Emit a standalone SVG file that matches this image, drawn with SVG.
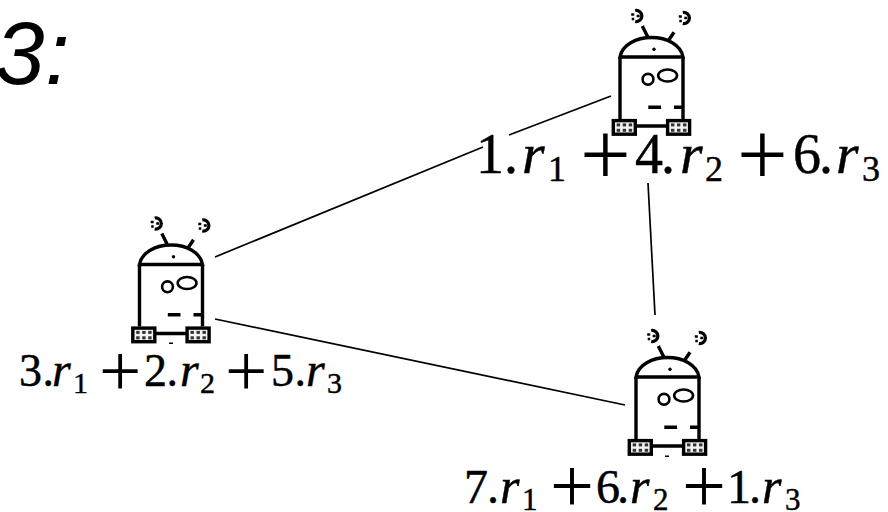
<svg xmlns="http://www.w3.org/2000/svg" xmlns:xlink="http://www.w3.org/1999/xlink" width="888" height="512" viewBox="0 0 888 512">
<style>
.t{font-family:"Liberation Serif","Times New Roman",serif;fill:#000;stroke:#000;stroke-width:.45}
.i{font-style:italic}
.p{stroke-width:0}
.title{font-family:"Liberation Sans",Arial,sans-serif;font-style:italic;font-size:89px;fill:#000}
.s{fill:none;stroke:#000;stroke-width:3.4}
.thin{fill:none;stroke:#000;stroke-width:2.6}
.c{fill:none;stroke:#000;stroke-width:1.7}
</style>
<defs>
<g id="foot">
<rect x="1.6" y="1.6" width="22" height="13.6" fill="#f2f2f2" stroke="#000" stroke-width="3.4"/>
<g fill="#333"><rect x="5" y="4.4" width="3.4" height="3"/><rect x="11" y="4.4" width="3.4" height="3"/><rect x="17" y="4.4" width="3.4" height="3"/><rect x="5" y="9.8" width="3.4" height="3"/><rect x="11" y="9.8" width="3.4" height="3"/><rect x="17" y="9.8" width="3.4" height="3"/></g>
</g>
<g id="head">
<path d="M-1.5,-5.5 A5.6,5.6 0 1 1 -1.5,5.5" fill="none" stroke="#000" stroke-width="3.2"/>
<path d="M-5.5,-1.5 h3 M-5,3 h2.5 M0,0 h3" stroke="#000" stroke-width="2.6" fill="none"/>
</g>
<g id="robot">
<use xlink:href="#head" href="#head" x="636.7" y="16"/>
<use xlink:href="#head" href="#head" x="684.3" y="18"/>
<path class="s" d="M642.3,26 L647.7,36.7 M674,32.3 L668.3,40.7"/>
<path class="s" d="M620,57 C622,45 636,37.5 651.7,37.5 C667,37.5 681,45 683,57 Z"/>
<path class="s" d="M620,57 V119 M683,57 V119 M636,126 H667"/>
<circle cx="654" cy="49.3" r="1.7" fill="#000"/>
<circle cx="648" cy="79.3" r="5.4" class="thin"/>
<ellipse cx="667.6" cy="75.5" rx="9.4" ry="6" class="thin"/>
<path class="s" d="M648.3,107.3 H661 M674,107.3 H682.5"/>
<use xlink:href="#foot" href="#foot" x="611.7" y="119"/>
<use xlink:href="#foot" href="#foot" x="666" y="119"/>
</g>
</defs>
<text id="title" class="title" x="-5 45" y="84">3:</text>
<g id="connectors">
<path class="c" d="M215,257 L483,147 M509,135 L611,96"/>
<path class="c" d="M648,183 L655,315"/>
<path class="c" d="M215,319 L625,405"/>
</g>
<g id="robot-top">
<use xlink:href="#robot" href="#robot"/>
<g class="t">
<text x="476 504" y="173" font-size="56">1.</text><text class="i" x="522" y="173" font-size="58">r</text><text x="548" y="181" font-size="36">1</text>
<text class="p" x="580" y="185" font-size="90">+</text>
<text x="635 661" y="173" font-size="56">4.</text><text class="i" x="680" y="173" font-size="58">r</text><text x="705" y="181" font-size="36">2</text>
<text class="p" x="737" y="185" font-size="90">+</text>
<text x="793 819" y="173" font-size="56">6.</text><text class="i" x="836" y="173" font-size="58">r</text><text x="862" y="181" font-size="36">3</text>
</g>
</g>
<g id="robot-left">
<use xlink:href="#robot" href="#robot" x="-480.5" y="207.5"/>
<rect x="169" y="342.5" width="4" height="1.5" fill="#000"/>
<g class="t">
<text x="19 42.5" y="386" font-size="46">3.</text><text class="i" x="52" y="386" font-size="48">r</text><text x="73" y="393" font-size="30">1</text>
<text class="p" x="99" y="395.5" font-size="75">+</text>
<text x="144 166.5" y="386" font-size="46">2.</text><text class="i" x="180" y="386" font-size="48">r</text><text x="200" y="393" font-size="30">2</text>
<text class="p" x="225" y="395.5" font-size="75">+</text>
<text x="271 294.5" y="386" font-size="46">5.</text><text class="i" x="306" y="386" font-size="48">r</text><text x="327" y="393" font-size="30">3</text>
</g>
</g>
<g id="robot-bottom">
<use xlink:href="#robot" href="#robot" x="16" y="320"/>
<rect x="665" y="455.5" width="4" height="1.5" fill="#000"/>
<g class="t">
<text x="464 487" y="503" font-size="48">7.</text><text class="i" x="500" y="503" font-size="50">r</text><text x="522" y="510" font-size="31">1</text>
<text class="p" x="550" y="512" font-size="78">+</text>
<text x="596 617" y="503" font-size="48">6.</text><text class="i" x="630" y="503" font-size="50">r</text><text x="653" y="510" font-size="31">2</text>
<text class="p" x="682" y="512" font-size="78">+</text>
<text x="727 749" y="503" font-size="48">1.</text><text class="i" x="762" y="503" font-size="50">r</text><text x="785" y="510" font-size="31">3</text>
</g>
</g>
</svg>
